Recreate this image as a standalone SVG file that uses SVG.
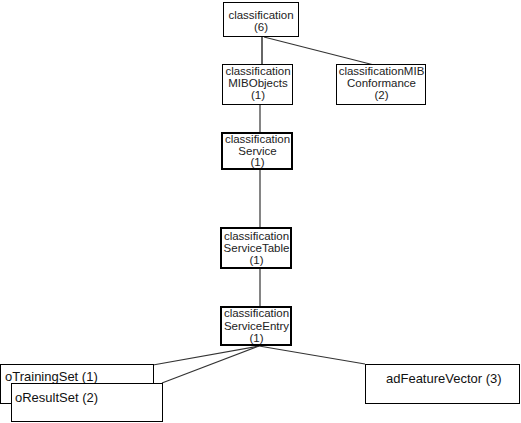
<svg xmlns="http://www.w3.org/2000/svg" width="521" height="423" viewBox="0 0 521 423">
<style>
.box{fill:#fff;stroke:#000;stroke-width:1}
.bold{stroke-width:2}
.t{font-family:"Liberation Sans",Arial,sans-serif;font-size:11.5px;fill:#222;text-anchor:middle}
.tl{font-family:"Liberation Sans",Arial,sans-serif;font-size:13px;fill:#111}
.c{stroke:#333;stroke-width:1.2;fill:none}
.g{stroke:#666;stroke-width:2}
</style>
<rect width="521" height="423" fill="#fff"/>
<g id="connectors">
<line class="c g" x1="262" y1="37" x2="262" y2="65"/>
<line class="c" x1="264" y1="37" x2="374" y2="65"/>
<line class="c" x1="260" y1="104" x2="260" y2="133"/>
<line class="c" x1="260" y1="169" x2="260" y2="228"/>
<line class="c" x1="260" y1="268" x2="260" y2="307"/>
<line class="c" x1="259" y1="346" x2="153" y2="365"/>
<line class="c" x1="259" y1="346" x2="162" y2="383"/>
<line class="c" x1="259" y1="346" x2="365" y2="364"/>
</g>
<g id="classification">
<rect class="box" x="223.5" y="2.5" width="75" height="34"/>
<text class="t" x="261" y="19">classification</text>
<text class="t" x="261" y="31">(6)</text>
</g>
<g id="classificationMIBObjects">
<rect class="box" x="222.5" y="64.5" width="70" height="40"/>
<text class="t" x="258" y="75">classification</text>
<text class="t" x="258" y="87">MIBObjects</text>
<text class="t" x="258" y="99">(1)</text>
</g>
<g id="classificationMIBConformance">
<rect class="box" x="336.5" y="64.5" width="89" height="40"/>
<text class="t" x="381.5" y="75">classificationMIB</text>
<text class="t" x="381.5" y="87">Conformance</text>
<text class="t" x="381.5" y="99">(2)</text>
</g>
<g id="classificationService">
<rect class="box bold" x="222" y="133" width="70" height="36"/>
<text class="t" x="257.5" y="143">classification</text>
<text class="t" x="257.5" y="155">Service</text>
<text class="t" x="257.5" y="166">(1)</text>
</g>
<g id="classificationServiceTable">
<rect class="box bold" x="221" y="228" width="70" height="40"/>
<text class="t" x="256.5" y="240">classification</text>
<text class="t" x="256.5" y="252">ServiceTable</text>
<text class="t" x="256.5" y="264">(1)</text>
</g>
<g id="classificationServiceEntry">
<rect class="box bold" x="221" y="307" width="70" height="38"/>
<text class="t" x="256.5" y="317">classification</text>
<text class="t" x="256.5" y="330">ServiceEntry</text>
<text class="t" x="256.5" y="342">(1)</text>
</g>
<g id="oTrainingSet">
<rect class="box" x="0.5" y="364.5" width="153" height="39"/>
<text class="tl" x="5" y="381">oTrainingSet (1)</text>
</g>
<g id="oResultSet">
<rect class="box" x="11.5" y="383.5" width="151" height="38"/>
<text class="tl" x="15" y="402">oResultSet (2)</text>
</g>
<g id="adFeatureVector">
<rect class="box" x="365.5" y="364.5" width="154" height="39"/>
<text class="tl" x="386" y="383">adFeatureVector (3)</text>
</g>
</svg>
